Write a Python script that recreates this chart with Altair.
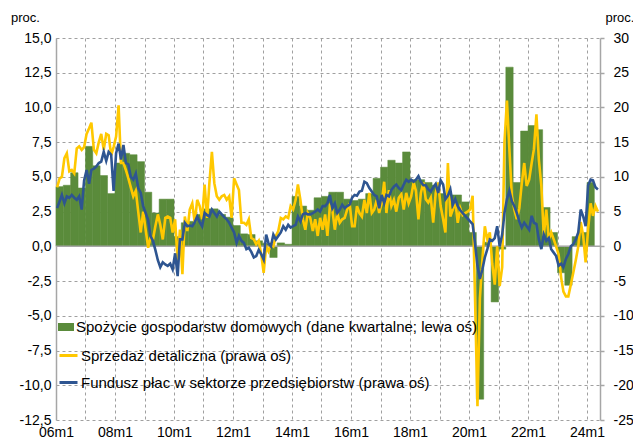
import altair as alt
import pandas as pd

FONT = "Liberation Sans"
GREEN = "#5A8B3B"
YELLOW = "#FFC800"
BLUE = "#2E5591"
GRID = "#A0A0A0"
AXIS = "#A6A6A6"

S1 = "Spożycie gospodarstw domowych (dane kwartalne; lewa oś)"
S2 = "Sprzedaż detaliczna (prawa oś)"
S3 = "Fundusz płac w sektorze przedsiębiorstw (prawa oś)"

# Quarterly household consumption, y/y %, 2006Q1 .. 2024Q1 (left axis)
consumption = [
    4.3, 4.4, 5.3, 4.2,
    7.2, 5.8, 5.1, 3.8,
    6.0, 6.7, 6.6, 6.1,
    3.9, 2.4, 3.4, 3.4,
    0.7, 1.7, 1.8, 2.3,
    2.7, 2.7, 2.3, 2.1,
    1.5, 0.9, 0.85, 0.4,
    0.2, -0.8, 0.25, 0.15,
    3.6, 2.9, 2.6, 3.5,
    3.6, 3.9, 3.9, 3.4,
    3.3, 3.4, 3.8, 4.9,
    5.7, 6.2, 6.0, 6.8,
    4.8, 4.8, 4.6, 4.4,
    3.8, 3.7, 3.7, 3.2,
    1.0, -11.0, 0.3, -4.0,
    -0.2, 12.9, 4.6, 8.3,
    8.7, 8.4, 2.8, 1.0,
    -1.9, -2.8, 0.7, 1.0,
    4.6,
]

# Monthly retail sales, y/y %, 2006m1 .. 2024m5 (right axis)
retail = [
    8.5, 9.8, 10.0, 12.7, 13.4, 10.8, 11.0, 10.5, 14.1, 14.4, 13.9, 14.3,
    16.2, 17.0, 17.8, 13.9, 13.4, 15.0, 16.2, 13.9, 16.2, 16.0, 13.1, 14.3,
    15.8, 20.3, 12.0, 12.0, 11.0, 9.8, 8.5, 7.2, 8.0, 5.0, 2.0, 5.0,
    2.4, -0.2, 1.2, 1.0, 2.9, 4.6, 3.1, 1.0, 4.1, 4.3, 4.1, 2.0,
    3.9, -2.3, 2.4, -4.0, 4.3, 2.2, 5.3, 6.2, 3.4, 6.7, 5.8, 3.9,
    8.9, 4.1, 9.1, 13.6, 9.1, 7.2, 6.7, 7.2, 7.4, 6.7, 7.2, 4.1,
    9.8, 8.9, 8.1, 3.4, 3.4, 3.1, 3.9, 1.2, 1.0, 0.3, 0.8, -1.1,
    -3.8, 0.0, -0.7, 0.3, 0.0, 1.5, 2.2, 4.1, 3.9, 4.3, 4.1, 5.8,
    5.3, 6.7, 8.9, 6.7, 3.9, 2.4, 4.8, 4.1, 2.2, 3.9, 1.5, 4.1,
    2.4, 4.6, 1.5, 5.8, 5.3, 2.4, 4.8, 3.4, 3.9, 4.1, 5.3, 6.2,
    2.9, 2.9, 5.8, 4.8, 4.3, 6.7, 4.8, 7.7, 4.8, 5.3, 6.7, 4.8,
    6.2, 9.3, 4.8, 8.1, 5.8, 6.7, 5.0, 7.0, 7.5, 5.3, 7.7, 6.2,
    7.2, 9.2, 8.0, 3.9, 7.7, 9.2, 6.8, 6.3, 7.0, 3.4, 7.7, 9.2,
    5.8, 3.9, 2.0, 12.0, 4.3, 5.3, 6.5, 3.4, 5.5, 4.5, 4.8, 5.0,
    5.3, 7.3, -7.0, -23.0, -7.5, -1.9, 2.9, 1.0, 2.0, -2.5, -5.5, 0.0,
    -5.7, -3.0, 15.0, 21.0, 14.0, 7.2, 5.3, 3.9, 5.5, 9.0, 12.0, 8.7,
    9.6, 12.0, 14.0, 19.0, 12.5, 8.7, 1.5, 5.3, 1.0, 2.0, 1.0, 0.0,
    -1.2, -4.5, -6.5, -7.2, -7.2, -5.5, -3.8, -2.0, 0.0, 3.5, 1.5, -2.3,
    2.5, 6.2, 4.4, 5.8, 5.0,
]

# Monthly wage fund in the enterprise sector, y/y %, 2006m1 .. 2024m5 (right axis)
wages = [
    5.5, 6.5, 7.4, 6.2, 7.2, 7.0, 7.4, 7.0, 6.7, 7.2, 5.3, 9.5,
    11.0, 9.0, 11.0, 11.2, 11.5, 12.0, 12.2, 13.6, 12.3, 13.6, 13.2, 8.0,
    13.4, 14.8, 12.5, 14.6, 12.0, 11.8, 10.0, 9.6, 10.5, 8.4, 7.7, 5.8,
    4.8, 3.8, 1.5, 0.8, -0.5, -2.0, -3.0, -2.3, -2.6, -2.8, -2.5, -3.3,
    -1.0, -4.3, 1.0, 1.0, 3.4, 2.9, 3.0, 2.9, 3.5, 4.3, 3.5, 2.9,
    4.8, 4.5, 4.3, 5.3, 4.8, 4.3, 5.0, 4.6, 4.2, 3.9, 3.4, 2.7,
    2.0, 0.5, 1.5, 0.8, 0.5, -0.4, -0.2, -0.8, -1.6, -1.4, -0.5, -1.1,
    -1.9, 1.7, 0.5, 0.0, 1.7, 1.0, 1.5, 2.0, 2.9, 2.4, 3.1, 2.7,
    2.9, 3.1, 4.3, 3.6, 4.6, 4.8, 4.6, 4.6, 4.8, 5.0, 5.3, 5.0,
    5.8, 5.8, 6.2, 7.4, 5.5, 6.2, 4.8, 5.3, 6.0, 5.5, 5.8, 6.0,
    7.0, 7.4, 7.3, 7.9, 8.0, 9.3, 9.1, 8.4, 7.9, 7.4, 7.2, 5.5,
    7.4, 6.2, 7.4, 7.2, 8.1, 8.6, 8.9, 8.4, 8.1, 8.9, 9.6, 9.3,
    9.6, 9.3, 9.6, 10.1, 9.3, 8.8, 8.8, 8.2, 7.9, 8.5, 9.0, 7.7,
    9.5, 8.9, 6.8, 7.3, 8.2, 6.0, 6.8, 5.8, 5.2, 4.8, 4.4, 4.0,
    3.6, 3.2, 0.5, -2.8, -4.7, -3.3, -1.6, -0.4, 1.0, 0.8, 1.2, 2.9,
    0.0, 1.7, 4.8, 6.8, 8.0, 6.5, 5.8, 4.8, 3.6, 2.7, 3.4, 2.9,
    2.4, 4.4, 3.4, 3.2, 1.0, -0.4, 1.7, 0.8, 1.2, -0.4, -0.9, -1.4,
    -2.8, -2.5, -3.0, -1.8, -1.1, 0.0, 0.3, 1.0, 2.0, 5.3, 4.3, 2.9,
    8.8, 9.6, 9.5, 8.5, 8.2,
]

x_years = list(range(2006, 2025))

# ---------- tables ----------
q_start = pd.date_range("2006-01-01", periods=len(consumption), freq="QS")
q_end = pd.date_range("2006-04-01", periods=len(consumption), freq="QS")
df_q = pd.DataFrame({
    "start": q_start.strftime("%Y-%m-%d"),
    "end": q_end.strftime("%Y-%m-%d"),
    "value": consumption,
    "zero": 0.0,
    "series": S1,
})

def monthly(values, name):
    d = pd.date_range("2006-01-01", periods=len(values), freq="MS") + pd.Timedelta(days=14)
    return pd.DataFrame({"date": d.strftime("%Y-%m-%d"), "value": values, "series": name})

df_r = monthly(retail, S2)
df_w = monthly(wages, S3)
df_zero = pd.DataFrame({"start": ["2006-01-01"], "end": ["2024-06-10"], "value": [0.0]})

# ---------- scales / axes ----------
xscale = alt.Scale(domain=[alt.DateTime(year=2006, month=1, date=1),
                           alt.DateTime(year=2024, month=6, date=10)])
xaxis = alt.Axis(
    values=[alt.DateTime(year=y, month=1, date=1) for y in x_years],
    labelExpr="year(datum.value) % 2 == 0 ? timeFormat(datum.value, '%y') + 'm1' : ''",
    grid=True, gridDash=[3, 3], gridColor=GRID, gridWidth=1,
    domain=False, ticks=False, labelFlush=False, labelOverlap=False,
    labelFontSize=14, labelFont=FONT, labelColor="black",
    labelBaseline="alphabetic", labelPadding=16,
    title=None,
)

left_scale = alt.Scale(domain=[-12.5, 15], nice=False, zero=False)
right_scale = alt.Scale(domain=[-25, 30], nice=False, zero=False)

left_axis = alt.Axis(
    orient="left",
    values=[-12.5 + 2.5 * i for i in range(12)],
    labelExpr="(datum.value < 0 ? '-' : '') + replace(format(abs(datum.value), '.1f'), '.', ',')",
    grid=True, gridDash=[3, 3], gridColor=GRID, gridWidth=1,
    domain=True, domainColor=AXIS, domainWidth=1.5, ticks=False,
    labelFontSize=14, labelFont=FONT, labelColor="black", labelPadding=5, labelFlush=False,
    title="proc.", titleAngle=0, titleX=-31, titleY=-17, titleAlign="center",
    titleBaseline="alphabetic", titleFont=FONT, titleFontSize=13, titleFontWeight="normal",
    titleColor="black",
)
right_axis = alt.Axis(
    orient="right",
    values=[-25 + 5 * i for i in range(12)],
    labelExpr="(datum.value < 0 ? '-' : '') + format(abs(datum.value), 'd')",
    grid=False, domain=True, domainColor=AXIS, domainWidth=1.5,
    ticks=True, tickSize=4, tickColor=AXIS, tickWidth=1.5,
    labelFontSize=14, labelFont=FONT, labelColor="black", labelPadding=9, labelFlush=False,
    title="proc.", titleAngle=0, titleX=5, titleY=-17, titleAlign="left",
    titleBaseline="alphabetic", titleFont=FONT, titleFontSize=13, titleFontWeight="normal",
    titleColor="black",
)

fill_legend = alt.Legend(
    orient="none", legendX=2, legendY=281, title=None, padding=0,
    symbolType="M-1,-0.5H1V0.5H-1Z", symbolSize=256, symbolStrokeWidth=0,
    labelFont=FONT, labelFontSize=15, labelColor="black", labelOffset=2, labelLimit=600,
)
stroke_legend = alt.Legend(
    orient="none", legendX=2, legendY=307, title=None, padding=0,
    symbolType="stroke", symbolSize=324, symbolStrokeWidth=3, rowPadding=8,
    labelFont=FONT, labelFontSize=15, labelColor="black", labelOffset=2, labelLimit=600,
)

stroke_scale = alt.Scale(domain=[S2, S3], range=[YELLOW, BLUE])

bars = alt.Chart(df_q).mark_rect(stroke=GREEN, strokeWidth=0.5).encode(
    x=alt.X("start:T", scale=xscale, axis=xaxis),
    x2="end:T",
    y=alt.Y("value:Q", scale=left_scale, axis=left_axis),
    y2="zero:Q",
    fill=alt.Fill("series:N", scale=alt.Scale(domain=[S1], range=[GREEN]), legend=fill_legend),
)

zero_rule = alt.Chart(df_zero).mark_rule(color=AXIS, strokeWidth=1.5).encode(
    x=alt.X("start:T", scale=xscale, axis=xaxis),
    x2="end:T",
    y=alt.Y("value:Q", scale=left_scale, axis=left_axis),
)

line_retail = alt.Chart(df_r).mark_line(strokeWidth=2.6).encode(
    x=alt.X("date:T", scale=xscale, axis=xaxis),
    y=alt.Y("value:Q", scale=right_scale, axis=right_axis),
    stroke=alt.Stroke("series:N", scale=stroke_scale, legend=stroke_legend),
)
line_wages = alt.Chart(df_w).mark_line(strokeWidth=2.6).encode(
    x=alt.X("date:T", scale=xscale, axis=xaxis),
    y=alt.Y("value:Q", scale=right_scale, axis=right_axis),
    stroke=alt.Stroke("series:N", scale=stroke_scale, legend=stroke_legend),
)

left_layer = alt.layer(bars, zero_rule)
right_layer = alt.layer(line_retail, line_wages)

chart = (
    alt.layer(left_layer, right_layer)
    .resolve_scale(y="independent")
    .properties(
        width=544, height=382,
        autosize=alt.AutoSizeParams(type="none"),
        padding={"left": 48, "top": 30, "right": 33, "bottom": 20},
        background="white",
    )
    .configure_view(stroke=None)
)

chart.save("out.html", embed_options={"renderer": "svg", "actions": False})
